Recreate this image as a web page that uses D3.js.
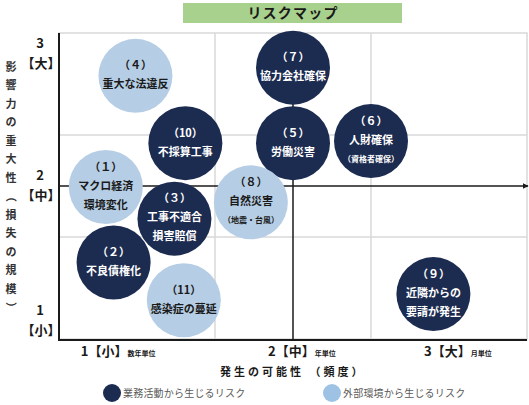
<!DOCTYPE html>
<html><head><meta charset="utf-8">
<script src="https://cdn.jsdelivr.net/npm/d3@7"></script>
<style>
html,body{margin:0;padding:0;background:#fff;}
svg{display:block;font-family:"Noto Sans CJK JP","Noto Sans",sans-serif;}
</style></head>
<body>
<svg id="chart" width="529" height="405"></svg>
<script>
// ---- data ----
const chartTitle = "リスクマップ";
const riskNo     = [4, 7, 10, 5, 6, 1, 8, 3, 2, 11, 9];
const riskLines  = [
  ["重大な法違反"], ["協力会社確保"], ["不採算工事"], ["労働災害"],
  ["人財確保"], ["マクロ経済", "環境変化"], ["自然災害"],
  ["工事不適合", "損害賠償"], ["不良債権化"], ["感染症の蔓延"],
  ["近隣からの", "要請が発生"]
];
const riskNote   = [null, null, null, null, "（資格者確保）", null, "（地震・台風）", null, null, null, null];
const likelihood = [0.99, 2.0, 1.31, 2.0, 2.5, 0.8, 1.73, 1.24, 0.85, 1.3, 2.9];
const impact     = [3.08, 3.16, 2.42, 2.42, 2.44, 1.99, 1.84, 1.68, 1.25, 0.88, 0.94];
const riskSource = ["ext", "biz", "biz", "biz", "biz", "ext", "ext", "biz", "biz", "ext", "biz"];
const sourceKeys   = ["biz", "ext"];
const sourceLabels = ["業務活動から生じるリスク", "外部環境から生じるリスク"];

const xTickValues = [1, 2, 3];
const xTickNames  = ["【小】", "【中】", "【大】"];
const xTickUnits  = ["数年単位", "年単位", "月単位"];
const xTickAt     = [0.64, 1.84, 2.84];
const yTickValues = [3, 2, 1];
const yTickNames  = ["【大】", "【中】", "【小】"];
const yTickAt     = [3.4, 2.1, 0.78];
const xTitle = "発生の可能性 （頻度）";
const yTitle = ["影","響","力","の","重","大","性","（","損","失","の","規","模","）"];

// ---- layout ----
const svg = d3.select("#chart");
const L = 59, R = 527, T = 33, B = 339;
const x = d3.scaleLinear().domain([0.5, 3.5]).range([L, R]);
const y = d3.scaleLinear().domain([0.5, 3.5]).range([B, T]);
const color = d3.scaleOrdinal().domain(sourceKeys).range(["#1c2b50", "#b6cee5"]);
const legendColor = d3.scaleOrdinal().domain(sourceKeys).range(["#1c2b50", "#9dc2e4"]);
const textColor = d3.scaleOrdinal().domain(sourceKeys).range(["#ffffff", "#1a1a1a"]);
const rad = 37;
const numLabel = n => n < 10 ? "（" + String.fromCharCode(0xFF10 + n) + "）" : "（" + n + "）";

// title
svg.append("rect").attr("x", 183).attr("y", 3).attr("width", 219).attr("height", 20).attr("fill", "#a9d18e");
svg.append("text").attr("x", 293).attr("y", 18).attr("text-anchor", "middle")
  .attr("font-size", 14).attr("font-weight", "bold").attr("letter-spacing", 1.2).attr("fill", "#1a1a1a")
  .text(chartTitle);

// frame
svg.append("rect").attr("x", L).attr("y", T).attr("width", R - L).attr("height", B - T)
  .attr("fill", "none").attr("stroke", "#d9d9d9").attr("stroke-width", 1.5);
// grid lines
const grid = [1.5, 2.5];
svg.selectAll(".gx").data(grid).join("line")
  .attr("x1", d => x(d)).attr("x2", d => x(d)).attr("y1", T).attr("y2", B)
  .attr("stroke", "#d9d9d9").attr("stroke-width", 1.5);
svg.selectAll(".gy").data(grid).join("line")
  .attr("y1", d => y(d)).attr("y2", d => y(d)).attr("x1", L).attr("x2", R)
  .attr("stroke", "#d9d9d9").attr("stroke-width", 1.5);

// arrow marker
svg.append("defs").append("marker").attr("id", "arr")
  .attr("viewBox", "0 0 10 10").attr("refX", 9).attr("refY", 5)
  .attr("markerWidth", 4).attr("markerHeight", 4).attr("orient", "auto")
  .append("path").attr("d", "M0,0L10,5L0,10Z").attr("fill", "#1a1a1a");

// center cross
svg.append("line").attr("x1", x(2)).attr("x2", x(2)).attr("y1", T).attr("y2", B)
  .attr("stroke", "#1a1a1a").attr("stroke-width", 1.5);
svg.append("line").attr("x1", L).attr("x2", R + 1).attr("y1", y(2)).attr("y2", y(2))
  .attr("stroke", "#1a1a1a").attr("stroke-width", 1.5).attr("marker-end", "url(#arr)");

// main axes (left and bottom)
svg.append("line").attr("x1", L).attr("x2", L).attr("y1", T).attr("y2", B + 1)
  .attr("stroke", "#1a1a1a").attr("stroke-width", 2);
svg.append("line").attr("x1", L - 1).attr("x2", R).attr("y1", B + 1).attr("y2", B + 1)
  .attr("stroke", "#1a1a1a").attr("stroke-width", 2);

// x tick labels
const xt = svg.selectAll(".xt").data(xTickValues).join("text")
  .attr("x", (d, i) => x(xTickAt[i])).attr("y", 356)
  .attr("fill", "#1a1a1a").attr("font-weight", "bold");
xt.append("tspan").attr("font-size", 13).text(d => d);
xt.append("tspan").attr("font-size", 13).text((d, i) => xTickNames[i]);
xt.append("tspan").attr("font-size", 7).text((d, i) => xTickUnits[i]);

// y tick labels
svg.selectAll(".yt").data(yTickValues).join("text")
  .attr("x", 40).attr("y", (d, i) => y(yTickAt[i])).attr("dy", "0.35em")
  .attr("text-anchor", "middle").attr("font-size", 13).attr("font-weight", "bold").attr("fill", "#1a1a1a")
  .text(d => d);
svg.selectAll(".ytn").data(yTickValues).join("text")
  .attr("x", 41).attr("y", (d, i) => y(yTickAt[i]) + 20).attr("dy", "0.35em")
  .attr("text-anchor", "middle").attr("font-size", 13).attr("font-weight", "bold").attr("fill", "#1a1a1a")
  .text((d, i) => yTickNames[i]);

// axis titles
svg.append("text").attr("x", 220).attr("y", 376)
  .attr("font-size", 11).attr("font-weight", "bold").attr("letter-spacing", 3).attr("fill", "#1a1a1a")
  .text(xTitle);
svg.selectAll(".ytitle").data(yTitle).join("text")
  .attr("transform", (d, i) => {
    const cy = 67 + i * 18.5;
    return (d === "（" || d === "）") ? `translate(11,${cy}) rotate(90)` : `translate(11,${cy})`;
  })
  .attr("dy", "0.35em")
  .attr("text-anchor", "middle").attr("font-size", 11).attr("font-weight", "bold").attr("fill", "#333")
  .text(d => d);

// risk circles
const risks = riskNo.map((n, i) => ({
  n, lines: riskLines[i], note: riskNote[i], lx: likelihood[i], iy: impact[i], src: riskSource[i]
}));
const g = svg.selectAll(".risk").data(risks).join("g")
  .attr("transform", d => `translate(${x(d.lx)},${y(d.iy)})`);
g.append("circle").attr("r", rad).attr("fill", d => color(d.src));
g.each(function(d) {
  const el = d3.select(this);
  const rows = [{t: numLabel(d.n), s: 11}].concat(d.lines.map(t => ({t, s: 11})));
  if (d.note) rows.push({t: d.note, s: 8});
  const n = rows.length;
  const lh = 19;
  const start = -1 - (n - 1) * lh / 2;
  rows.forEach((r, k) => {
    el.append("text").attr("x", 0).attr("y", start + k * lh).attr("dy", "0.35em")
      .attr("text-anchor", "middle").attr("font-size", r.s).attr("font-weight", "bold")
      .attr("fill", textColor(d.src)).text(r.t);
  });
});

// legend
const lg = svg.selectAll(".lg").data(sourceKeys).join("g")
  .attr("transform", (d, i) => `translate(${i === 0 ? 112 : 332},393)`);
lg.append("circle").attr("r", 9).attr("fill", d => legendColor(d));
lg.append("text").attr("x", 11).attr("dy", "0.35em").attr("font-size", 10)
  .attr("letter-spacing", 0.2).attr("fill", "#595959").text((d, i) => sourceLabels[i]);
</script>
</body></html>
